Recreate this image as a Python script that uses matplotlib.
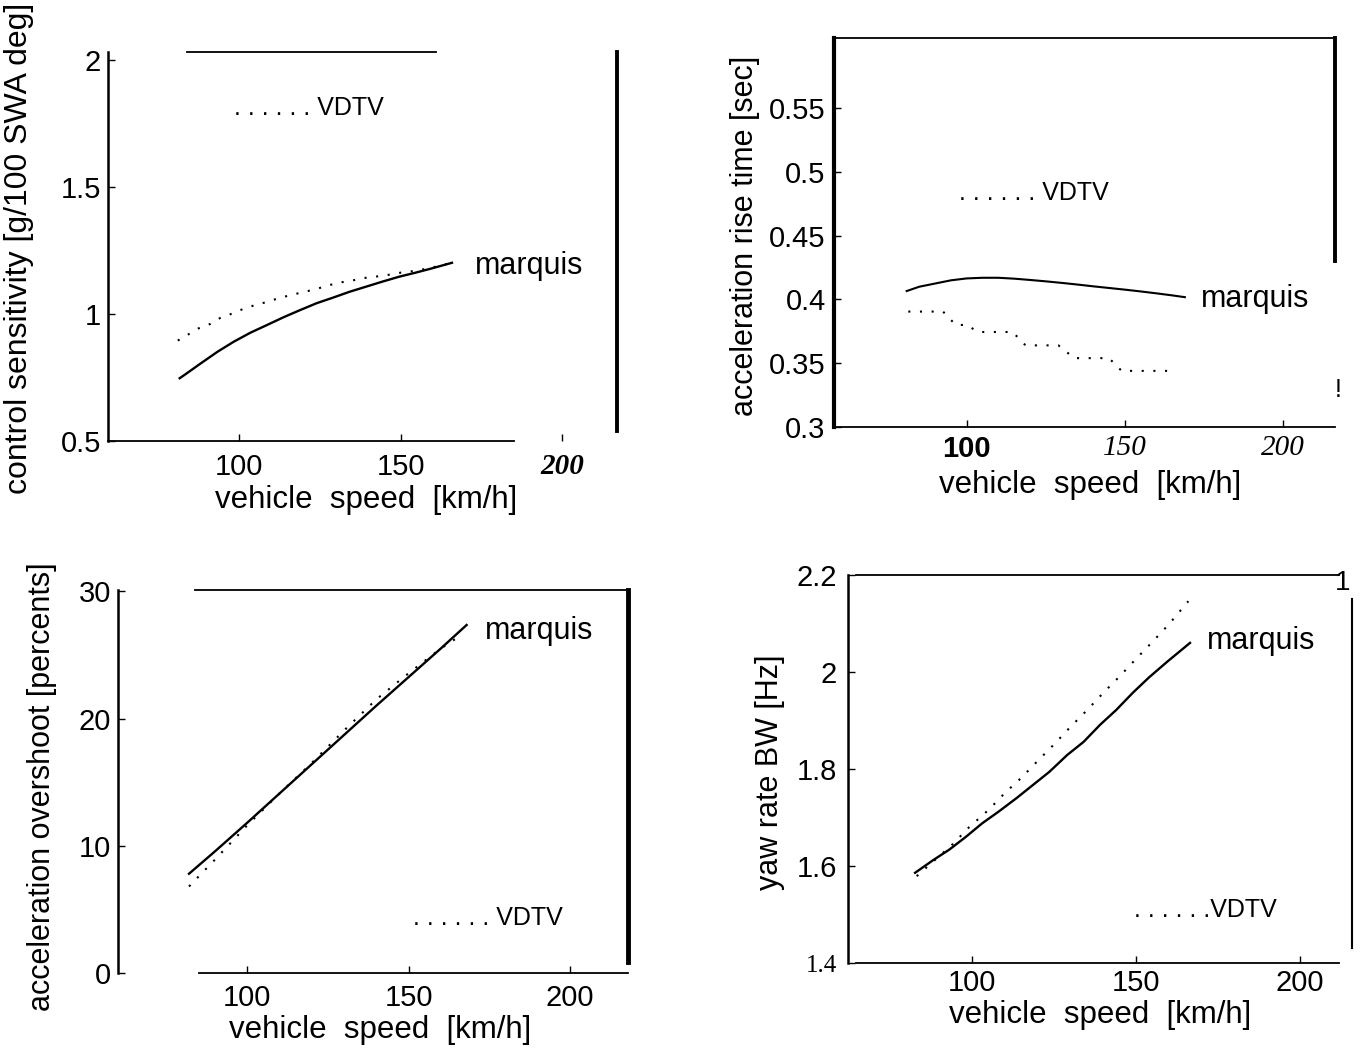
import matplotlib
matplotlib.use("Agg")
import matplotlib.pyplot as plt
from matplotlib.transforms import Bbox, TransformedBbox

# ---------------- data ----------------
# control sensitivity [g/100 SWA deg]
cs_m_speed = [81.6, 83.1, 88.2, 93.3, 98.4, 103.5, 108.6, 113.8, 118.9, 124.0,
              129.1, 134.2, 139.3, 144.4, 149.5, 154.6, 159.7, 165.9]
cs_marquis = [0.747, 0.760, 0.806, 0.851, 0.891, 0.926, 0.956, 0.987, 1.015, 1.042,
              1.064, 1.087, 1.107, 1.127, 1.146, 1.162, 1.179, 1.201]
cs_v_speed = [81, 84, 87, 91, 94, 98, 101, 105, 109, 112, 116, 120, 124, 127, 131,
              135, 138, 142, 146, 150, 155, 160, 166]
cs_vdtv = [0.895, 0.917, 0.941, 0.960, 0.983, 1.002, 1.018, 1.035, 1.048, 1.061,
           1.074, 1.086, 1.098, 1.110, 1.123, 1.131, 1.140, 1.146, 1.153, 1.162,
           1.170, 1.183, 1.201]

# acceleration rise time [sec]
rt_m_speed = [81, 85, 90, 95, 100, 105, 110, 115, 120, 125, 130, 135, 140, 145,
              150, 155, 160, 165, 169]
rt_marquis = [0.4066, 0.410, 0.4125, 0.415, 0.4165, 0.417, 0.417, 0.4163, 0.4153,
              0.4142, 0.413, 0.4117, 0.4103, 0.409, 0.4077, 0.4063, 0.4048, 0.4032,
              0.4018]
rt_v_speed = [81.5, 92.5, 96.5, 100, 103.6, 114.5, 118.6, 129, 134, 145, 149, 164]
rt_vdtv = [0.3905, 0.3905, 0.380, 0.380, 0.3745, 0.3745, 0.364, 0.364, 0.354, 0.354,
           0.344, 0.344]

# acceleration overshoot [percents]
os_m_speed = [82, 90, 100, 110, 120, 130, 140, 150, 160, 168]
os_marquis = [7.8, 9.55, 11.8, 14.1, 16.4, 18.7, 21.0, 23.25, 25.5, 27.35]
os_v_speed = [82, 90, 100, 110, 120, 130, 140, 150, 160, 166]
os_vdtv = [6.8, 8.9, 11.6, 14.1, 16.5, 19.05, 21.5, 23.55, 25.5, 26.5]

# yaw rate bandwidth [Hz]
bw_m_speed = [82.5, 88, 93, 98, 103, 108, 113.5, 118.5, 123.5, 129, 134, 139, 144,
              149, 154, 159.5, 166.5]
bw_marquis = [1.586, 1.612, 1.634, 1.660, 1.688, 1.712, 1.740, 1.767, 1.794, 1.829,
              1.856, 1.891, 1.922, 1.957, 1.989, 2.021, 2.060]
bw_v_speed = [83, 94, 99, 105, 110, 115, 120, 125, 130, 135, 140, 145, 150, 155,
              160, 166]
bw_vdtv = [1.579, 1.645, 1.680, 1.716, 1.751, 1.782, 1.817, 1.851, 1.887, 1.921,
           1.957, 1.991, 2.027, 2.062, 2.098, 2.146]

xticks = [100, 150, 200]
xtick_labels = ["100", "150", "200"]
cs_ticks, cs_labels = [0.5, 1, 1.5, 2], ["0.5", "1", "1.5", "2"]
rt_ticks = [0.3, 0.35, 0.4, 0.45, 0.5, 0.55]
rt_labels = ["0.3", "0.35", "0.4", "0.45", "0.5", "0.55"]
os_ticks, os_labels = [0, 10, 20, 30], ["0", "10", "20", "30"]
bw_ticks, bw_labels = [1.4, 1.6, 1.8, 2.0, 2.2], ["1.4", "1.6", "1.8", "2", "2.2"]

xlabel = "vehicle  speed  [km/h]"
ylabels = ["control sensitivity [g/100 SWA deg]", "acceleration rise time [sec]",
           "acceleration overshoot [percents]", "yaw rate BW [Hz]"]
name_marquis = "marquis"
name_vdtv = ". . . . . . VDTV"
name_vdtv4 = ". . . . . .VDTV"

# ---------------- styling ----------------
SANS = ["Liberation Sans", "DejaVu Sans"]
SERIF = ["Liberation Serif", "DejaVu Serif"]
plt.rcParams["font.family"] = SANS

W, H = 1364, 1050
fig = plt.figure(figsize=(W / 100, H / 100), dpi=100, facecolor="white")


def px_axes(l, t, r, b):
    return fig.add_axes([l / W, 1 - b / H, (r - l) / W, (b - t) / H])


def style(ax, xlim, ylim, yt, ytl, xpad=7, ypad=5):
    ax.set_xlim(*xlim)
    ax.set_ylim(*ylim)
    ax.set_xticks(xticks)
    ax.set_xticklabels(xtick_labels)
    ax.set_yticks(yt)
    ax.set_yticklabels(ytl)
    ax.tick_params(direction="in", length=5, width=1.0, labelsize=21,
                   colors="black")
    ax.tick_params(axis="x", pad=xpad)
    ax.tick_params(axis="y", pad=ypad)
    for s in ax.spines.values():
        s.set_linewidth(1.3)
        s.set_color("black")
    ax.spines["left"].set_linewidth(1.8)
    ax.spines["right"].set_linewidth(2.8)
    ax.set_facecolor("white")


def clip_right(artist, xpix):
    artist.set_clip_box(TransformedBbox(Bbox.from_extents(0, 0, xpix / W, 1),
                                        fig.transFigure))
    artist.set_clip_on(True)


MW = 1.7                  # marquis line width
DW = 1.5                  # dotted line width
DOT = (0, (1, 4.6))       # dotted pattern (about 12 px period)
VFS = 18                  # VDTV label size
XFS = 22.5                # x axis title size

# ---- panel 1: control sensitivity ----
ax1 = px_axes(108, 52, 617, 441)
style(ax1, (59.4, 217), (0.5, 2.03), cs_ticks, cs_labels, xpad=9, ypad=5)
ax1.plot(cs_m_speed, cs_marquis, color="black", lw=MW)
ax1.plot(cs_v_speed, cs_vdtv, color="black", lw=DW, linestyle=DOT)
ax1.spines["bottom"].set_bounds(59.4, 185)
ax1.spines["top"].set_bounds(84, 161)
ax1.spines["right"].set_bounds(0.54, 2.03)
t = ax1.text(173, 1.19, name_marquis, fontsize=22, va="center", ha="left")
clip_right(t, 583)
ax1.text(98.5, 1.81, name_vdtv, fontsize=VFS, va="center", ha="left")
lbl = ax1.get_xticklabels()[2]
lbl.set_fontfamily(SERIF)
lbl.set_fontstyle("italic")
lbl.set_fontweight("bold")

# ---- panel 2: acceleration rise time ----
ax2 = px_axes(834, 38, 1335, 427)
style(ax2, (58, 216.5), (0.3, 0.605), rt_ticks, rt_labels, xpad=6, ypad=6)
ax2.plot(rt_m_speed, rt_marquis, color="black", lw=1.5)
ax2.plot(rt_v_speed, rt_vdtv, color="black", lw=DW, linestyle=DOT)
ax2.spines["right"].set_bounds(0.43, 0.605)
ax2.spines["left"].set_linewidth(3.0)
ax2.text(174, 0.40, name_marquis, fontsize=22, va="center", ha="left")
ax2.text(97.7, 0.4836, name_vdtv, fontsize=VFS, va="center", ha="left")
xl = ax2.get_xticklabels()
xl[0].set_fontweight("bold")
for k in (1, 2):
    xl[k].set_fontfamily(SERIF)
    xl[k].set_fontstyle("italic")

# ---- panel 3: acceleration overshoot ----
ax3 = px_axes(118, 590, 628, 973)
style(ax3, (60, 218), (0, 30.1), os_ticks, os_labels, xpad=8, ypad=5)
ax3.plot(os_m_speed, os_marquis, color="black", lw=MW)
ax3.plot(os_v_speed, os_vdtv, color="black", lw=DW, linestyle=DOT)
ax3.spines["bottom"].set_bounds(85, 218)
ax3.spines["top"].set_bounds(84, 218)
ax3.spines["right"].set_bounds(0.9, 30.1)
ax3.spines["right"].set_linewidth(3.5)
ax3.text(173.6, 26.9, name_marquis, fontsize=22, va="center", ha="left")
ax3.text(151.3, 4.3, name_vdtv, fontsize=VFS, va="center", ha="left")

# ---- panel 4: yaw rate bandwidth ----
ax4 = px_axes(848, 575, 1352, 963)
style(ax4, (62, 216), (1.4, 2.2), bw_ticks, bw_labels, xpad=4, ypad=8)
ax4.plot(bw_m_speed, bw_marquis, color="black", lw=MW)
ax4.plot(bw_v_speed, bw_vdtv, color="black", lw=DW, linestyle=DOT)
ax4.spines["bottom"].set_bounds(64.5, 212)
ax4.spines["top"].set_bounds(64.5, 212)
ax4.spines["right"].set_bounds(1.43, 2.15)
ax4.spines["right"].set_linewidth(1.5)
ax4.text(171.8, 2.063, name_marquis, fontsize=22, va="center", ha="left")
ax4.text(149.3, 1.509, name_vdtv4, fontsize=VFS, va="center", ha="left")
yl = ax4.get_yticklabels()
yl[0].set_fontfamily(SERIF)
yl[0].set_fontsize(18)

# ---- axis titles ----
def fig_text(x, y, s, **kw):
    fig.text(x / W, 1 - y / H, s, ha="center", va="center", **kw)


fig_text(366, 500, xlabel, fontsize=XFS)
fig_text(1090, 485, xlabel, fontsize=XFS)
fig_text(380, 1030, xlabel, fontsize=XFS)
fig_text(1100, 1015, xlabel, fontsize=XFS)

fig_text(19, 248, ylabels[0], fontsize=23, rotation=90)
fig_text(745, 236, ylabels[1], fontsize=22, rotation=90)
fig_text(42, 787, ylabels[2], fontsize=22, rotation=90)
fig_text(770, 772, ylabels[3], fontsize=22, rotation=90)

# stray marks of the scanned page
fig_text(1338, 390, "!", fontsize=18)
fig_text(1343, 583, "1", fontsize=20)

fig.savefig("out.png", dpi=100, facecolor="white")
